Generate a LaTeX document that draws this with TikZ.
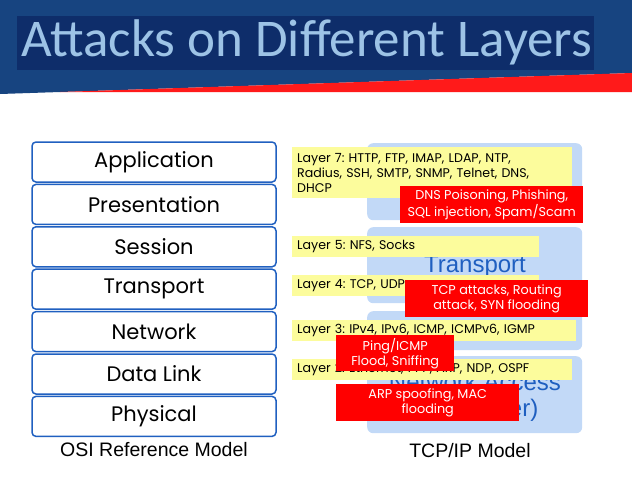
\documentclass[tikz,border=0pt]{standalone}
\usepackage{fontspec}
\setmainfont{Liberation Sans}
\newfontfamily\titlefont{Carlito}
\newfontfamily\gothicfont{Poppins}
\usetikzlibrary{positioning}
\frenchspacing
\definecolor{bannerblue}{HTML}{174480}
\definecolor{titlebox}{HTML}{0E2D6A}
\definecolor{titletext}{HTML}{9DC3E6}
\definecolor{slidered}{HTML}{FF1A1A}
\definecolor{osiline}{HTML}{2060C0}
\definecolor{tcpfill}{HTML}{C2D9F7}
\definecolor{tcptext}{HTML}{1F5FC0}
\definecolor{protofill}{HTML}{FCFC9C}
\definecolor{attackred}{HTML}{FF0000}
\begin{document}
\begin{tikzpicture}[x=1pt,y=-1pt,
    osibox/.style={draw=osiline,line width=1.5pt,rounded corners=4pt,minimum width=244pt,minimum height=40pt,
      font=\gothicfont\fontsize{21}{24}\selectfont},
    tcpbox/.style={fill=tcpfill,rounded corners=6pt,minimum width=215pt,anchor=north west},
    protobox/.style={fill=protofill,anchor=north west,align=left,inner xsep=5pt,
      font=\gothicfont\fontsize{12.6}{15}\selectfont},
    attackbox/.style={fill=attackred,text=white,anchor=north west,align=center,inner sep=0pt,
      font=\gothicfont\fontsize{12.8}{15}\selectfont},
    caption/.style={font=\fontsize{19.5}{22}\selectfont}]
  \useasboundingbox (0,0) rectangle (632,493);
  % banner
  \fill[bannerblue] (0,0) -- (632,0) -- (632,73) -- (0,94) -- cycle;
  \fill[slidered] (60,92) -- (632,73) -- (632,92) -- cycle;
  \fill[titlebox] (17,16) rectangle (594,70);
  \node[anchor=base west,inner sep=0pt,text=titletext,font=\titlefont\fontsize{53}{60}\selectfont] (title) at (21,56) {Attacks on Different Layers};
  % OSI reference model
  \foreach \name [count=\i from 0] in {Application,Presentation,Session,Transport,Network,Data Link,Physical}
    \node[osibox] (osi\i) at (154,162+42.4*\i) {\name};
  \node[caption,below=2pt of osi6] (osicap) {OSI Reference Model};
  % TCP/IP model
  \node[tcpbox,minimum height=77pt] (app) at (367,143) {};
  \node[tcpbox,minimum height=76pt] (trans) at (367,227) {};
  \node[tcpbox,minimum height=39pt] (inet) at (367,311) {};
  \node[tcpbox,minimum height=77pt] (netacc) at (367,356) {};
  \node[text=tcptext,font=\fontsize{24}{26}\selectfont] (translbl) at (475,267) {Transport};
  \node[text=tcptext,font=\fontsize{24}{26}\selectfont,align=center] (netacclbl) at (475,397) {Network Access\\(Link Layer)};
  \node[caption] (tcpcap) at (470,451) {TCP/IP Model};
  % protocols
  \node[protobox,minimum width=280pt,minimum height=51pt,text width=270pt] (l7) at (292,147)
    {Layer 7: HTTP, FTP, IMAP, LDAP, NTP,\\Radius, SSH, SMTP, SNMP, Telnet, DNS,\\DHCP};
  \node[protobox,minimum width=247pt,minimum height=21pt,text width=237pt] (l5) at (292,236) {Layer 5: NFS, Socks};
  \node[protobox,minimum width=247pt,minimum height=21pt,text width=237pt] (l4) at (292,275) {Layer 4: TCP, UDP};
  \node[protobox,minimum width=284pt,minimum height=21pt,text width=274pt] (l3) at (292,320) {Layer 3: IPv4, IPv6, ICMP, ICMPv6, IGMP};
  \node[protobox,minimum width=280pt,minimum height=21pt,text width=270pt] (l2) at (292,359) {Layer 2: Ethernet, PPP, ARP, NDP, OSPF};
  % attacks
  \node[attackbox,minimum width=183pt,minimum height=37pt] (dns) at (400,186) {DNS Poisoning, Phishing,\\SQL injection, Spam/Scam};
  \node[attackbox,minimum width=183pt,minimum height=37pt] (tcpatk) at (405,280) {TCP attacks, Routing\\attack, SYN flooding};
  \node[attackbox,minimum width=118pt,minimum height=36pt] (ping) at (336,335) {Ping/ICMP\\Flood, Sniffing};
  \node[attackbox,minimum width=183pt,minimum height=37pt] (arp) at (336,384) {ARP spoofing, MAC\\flooding};
\end{tikzpicture}
\end{document}
